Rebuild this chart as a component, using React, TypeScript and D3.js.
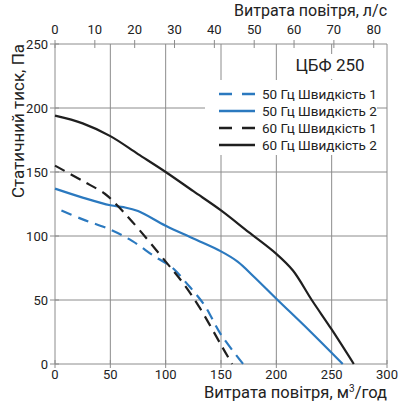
import React from "react";
import * as d3 from "d3";

// Fan performance curves for ЦБФ 250: airflow (m³/h) vs static pressure (Pa)
const model = "ЦБФ 250";
const xTicks = [0, 50, 100, 150, 200, 250, 300];
const xTopTicks = [0, 10, 20, 30, 40, 50, 60, 70, 80];
const yTicks = [0, 50, 100, 150, 200, 250];

const hz50speed1: [number, number][] = [
  [0, 122], [25, 113], [50, 105], [70, 96], [90, 84], [105, 76],
  [120, 62], [135, 46], [150, 23], [170, 0],
];
const hz50speed2: [number, number][] = [
  [0, 137], [25, 130], [50, 124], [62, 122.5], [75, 119.5], [100, 108],
  [125, 98], [150, 88], [165, 80], [180, 68], [200, 51], [230, 26], [260, 0],
];
const hz60speed1: [number, number][] = [
  [0, 155], [25, 143], [45, 133], [55, 125], [70, 111], [100, 80],
  [115, 64], [130, 45], [150, 15], [160, 0],
];
const hz60speed2: [number, number][] = [
  [0, 194], [25, 188], [50, 178], [75, 164], [100, 150], [125, 135],
  [150, 120], [175, 103], [200, 86], [215, 73], [232, 50], [250, 27], [270, 0],
];

const BLUE = "#2b79bf";
const BLACK = "#1f1f1f";
const GRID = "#8c8c8c";
const FONT = "Roboto, 'Noto Sans', sans-serif";

const seriesList = [
  { name: "50 Гц Швидкість 1", data: hz50speed1, color: BLUE, dashed: true },
  { name: "50 Гц Швидкість 2", data: hz50speed2, color: BLUE, dashed: false },
  { name: "60 Гц Швидкість 1", data: hz60speed1, color: BLACK, dashed: true },
  { name: "60 Гц Швидкість 2", data: hz60speed2, color: BLACK, dashed: false },
];

export default function App() {
  const left = 55, right = 387, top = 44, bottom = 364;
  const x = d3.scaleLinear().domain([0, 300]).range([left, right]);
  const xTop = d3.scaleLinear().domain([0, 300 / 3.6]).range([left, right]);
  const y = d3.scaleLinear().domain([0, 250]).range([bottom, top]);
  const line = d3
    .line<[number, number]>()
    .x((d) => x(d[0]))
    .y((d) => y(d[1]))
    .curve(d3.curveCatmullRom.alpha(0.5));

  return (
    <svg
      width={400}
      height={405}
      style={{ position: "absolute", left: 0, top: 0, background: "#fff" }}
      fontFamily={FONT}
    >
      {/* grid */}
      {xTicks.map((t) => (
        <line key={"gx" + t} x1={x(t)} x2={x(t)} y1={top} y2={bottom} stroke={GRID} strokeWidth={1} />
      ))}
      {yTicks.map((t) => (
        <line key={"gy" + t} x1={left} x2={right} y1={y(t)} y2={y(t)} stroke={GRID} strokeWidth={1} />
      ))}
      {/* ticks */}
      {yTicks.map((t) => (
        <line key={"ty" + t} x1={left - 5} x2={left + 4} y1={y(t)} y2={y(t)} stroke={GRID} strokeWidth={1} />
      ))}
      {xTicks.map((t) => (
        <line key={"tx" + t} x1={x(t)} x2={x(t)} y1={bottom - 4} y2={bottom + 4} stroke={GRID} strokeWidth={1} />
      ))}
      {xTopTicks.map((t) => (
        <line key={"tt" + t} x1={xTop(t)} x2={xTop(t)} y1={top - 4} y2={top + 4} stroke={GRID} strokeWidth={1} />
      ))}

      {/* curves */}
      {seriesList.map((s) => (
        <path
          key={s.name}
          d={line(s.data) || ""}
          fill="none"
          stroke={s.color}
          strokeWidth={2.2}
          strokeDasharray={s.dashed ? "11,7" : undefined}
          strokeDashoffset={s.dashed && s.color === BLUE ? 11 : 0}
        />
      ))}

      {/* tick labels */}
      {yTicks.map((t) => (
        <text key={"ly" + t} x={left - 7} y={y(t) + 4.5} textAnchor="end" fontSize={13} fill="#222">
          {t}
        </text>
      ))}
      {xTicks.map((t) => (
        <text key={"lx" + t} x={x(t)} y={379} textAnchor="middle" fontSize={13} fill="#222">
          {t}
        </text>
      ))}
      {xTopTicks.map((t) => (
        <text key={"lt" + t} x={xTop(t)} y={34} textAnchor="middle" fontSize={13} fill="#222">
          {t}
        </text>
      ))}

      {/* axis titles */}
      <text x={387} y={16} textAnchor="end" fontSize={16} fill="#222">
        Витрата повітря, л/с
      </text>
      <text x={387} y={398} textAnchor="end" fontSize={16.5} fill="#222">
        Витрата повітря, м<tspan dy={-6} fontSize={10}>3</tspan>
        <tspan dy={6}>/год</tspan>
      </text>
      <text
        transform="translate(24,121) rotate(-90)"
        textAnchor="middle"
        fontSize={17}
        fill="#222"
      >
        Статичний тиск, Па
      </text>

      {/* legend */}
      <rect x={286} y={54} width={86} height={25} fill="#fff" />
      <text x={330} y={71} textAnchor="middle" fontSize={17} fill="#222">
        {model}
      </text>
      <rect x={205} y={80} width={172} height={75} fill="#fff" />
      {seriesList.map((s, i) => {
        const cy = 94 + i * 17;
        return (
          <g key={"lg" + s.name}>
            <line
              x1={219}
              x2={255}
              y1={cy}
              y2={cy}
              stroke={s.color}
              strokeWidth={2.4}
              strokeDasharray={s.dashed ? "13,10" : undefined}
            />
            <text x={262} y={cy + 4.5} fontSize={13.5} fill="#222">
              {s.name}
            </text>
          </g>
        );
      })}
    </svg>
  );
}
